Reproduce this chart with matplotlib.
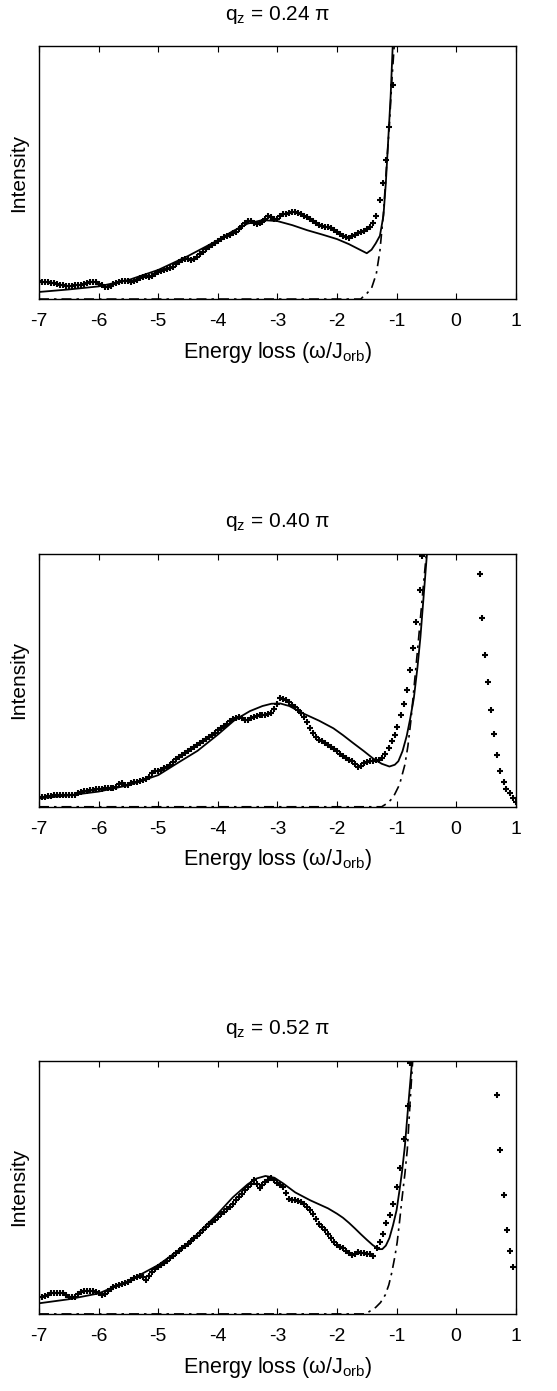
import numpy as np
import matplotlib
matplotlib.use("Agg")
import matplotlib.pyplot as plt

plt.rcParams['font.family'] = ['Liberation Sans', 'DejaVu Sans']
plt.rcParams['axes.unicode_minus'] = False
plt.rcParams['mathtext.default'] = 'regular'

# ---- experimental data, dense part on a 0.05 grid starting at -7.0 ----
EXP_X0 = -7.0
EXP_DX = 0.05

exp1_y = [
    .070, .068, .068, .066, .064, .062, .060, .057, .055, .053,
    .052, .053, .054, .055, .056, .058, .062, .066, .069, .066,
    .061, .054, .048, .049, .053, .058, .062, .066, .070, .073,
    .072, .068, .070, .076, .082, .087, .090, .089, .092, .100,
    .106, .111, .115, .118, .121, .128, .137, .147, .155, .158,
    .158, .155, .160, .168, .177, .187, .196, .204, .212, .220,
    .228, .237, .245, .250, .255, .259, .265, .276, .287, .300,
    .307, .308, .302, .298, .300, .305, .315, .330, .326, .316,
    .318, .330, .336, .335, .338, .342, .344, .340, .335, .330,
    .324, .316, .308, .300, .294, .290, .286, .283, .279, .272,
    .265, .256, .249, .245, .243, .248, .254, .259, .264, .270,
    .277,
]
exp1_tail_x = [-1.45, -1.40, -1.34, -1.28, -1.22, -1.17, -1.13, -1.06]
exp1_tail_y = [0.285, 0.30, 0.33, 0.39, 0.46, 0.55, 0.68, 0.845]

exp2_y = [
    .035, .037, .040, .042, .044, .045, .045, .046, .046, .047,
    .046, .046, .048, .055, .060, .061, .063, .065, .067, .069,
    .071, .072, .073, .074, .075, .076, .080, .090, .094, .088,
    .088, .092, .096, .099, .102, .106, .110, .118, .132, .140,
    .142, .146, .152, .157, .165, .178, .190, .198, .205, .212,
    .220, .228, .236, .243, .250, .258, .266, .275, .283, .293,
    .305, .313, .320, .328, .338, .347, .352, .355, .350, .344,
    .343, .350, .356, .360, .362, .363, .364, .366, .372, .385,
    .405, .430, .426, .420, .412, .404, .394, .382, .370, .355,
    .335, .312, .292, .275, .264, .258, .252, .246, .238, .230,
    .222, .210, .200, .192, .186, .180, .168, .156, .160, .172,
    .178, .180, .182, .185,
]
exp2_tail_x = [-1.30, -1.24, -1.19, -1.13, -1.08, -1.03, -0.99, -0.93, -0.88,
               -0.83, -0.77, -0.72, -0.67, -0.61, -0.57,
               0.40, 0.44, 0.49, 0.54, 0.59, 0.64, 0.69, 0.74, 0.80, 0.84,
               0.90, 0.955, 1.0]
exp2_tail_y = [0.186, 0.192, 0.209, 0.232, 0.258, 0.285, 0.317, 0.361, 0.407,
               0.46, 0.539, 0.626, 0.728, 0.858, 0.99,
               0.918, 0.747, 0.599, 0.493, 0.382, 0.287, 0.204, 0.142, 0.099,
               0.072, 0.053, 0.033, 0.02]

exp3_y = [
    .066, .068, .071, .076, .081, .083, .084, .083, .081, .074,
    .066, .066, .068, .078, .088, .089, .090, .091, .092, .088,
    .084, .075, .080, .090, .100, .105, .110, .114, .118, .123,
    .127, .133, .140, .145, .150, .145, .136, .150, .167, .177,
    .186, .193, .200, .210, .220, .230, .240, .250, .259, .268,
    .278, .288, .298, .308, .318, .331, .344, .354, .364, .373,
    .383, .393, .403, .413, .423, .436, .449, .462, .475, .488,
    .500, .514, .528, .515, .497, .508, .520, .530, .538, .528,
    .517, .508, .500, .478, .455, .452, .449, .446, .442, .433,
    .423, .409, .394, .376, .357, .344, .330, .314, .298, .285,
    .272, .265, .259, .249, .239, .232, .238, .245, .242, .239,
    .237, .235, .230,
]
exp3_tail_x = [-1.33, -1.27, -1.23, -1.17, -1.11, -1.06, -1.00, -0.94, -0.88,
               -0.81, -0.77,
               0.69, 0.74, 0.80, 0.85, 0.90, 0.955]
exp3_tail_y = [0.26, 0.286, 0.316, 0.358, 0.391, 0.435, 0.50, 0.576, 0.69,
               0.82, 0.99,
               0.866, 0.646, 0.469, 0.333, 0.248, 0.186]

# ---- theory (solid) ----
fit1_x = [-7, -6.5, -6, -5.5, -5, -4.5, -4, -3.75, -3.5, -3.25, -3.0, -2.75,
          -2.5, -2.25, -2.0, -1.8, -1.65, -1.5, -1.42, -1.35, -1.28, -1.22,
          -1.18, -1.14, -1.10, -1.065]
fit1_y = [.028, .038, .050, .075, .115, .170, .232, .268, .298, .312, .308,
          .292, .272, .255, .237, .217, .199, .181, .195, .22, .25, .33,
          .46, .63, .80, 1.0]

fit2_x = [-7, -6.5, -6, -5.5, -5, -4.66, -4.34, -4, -3.72, -3.46, -3.25,
          -3.1, -2.95, -2.8, -2.56, -2.3, -2.06, -1.9, -1.73, -1.55, -1.39,
          -1.25, -1.12, -1.03, -0.97, -0.9, -0.83, -0.77, -0.71, -0.65, -0.6,
          -0.55, -0.49]
fit2_y = [.033, .045, .060, .085, .125, .175, .221, .285, .342, .378, .398,
          .407, .408, .398, .368, .340, .310, .283, .252, .220, .190, .170,
          .159, .166, .18, .22, .28, .35, .43, .55, .67, .82, 1.0]

fit3_x = [-7, -6.5, -6, -5.5, -5, -4.5, -4, -3.75, -3.5, -3.35, -3.2, -3.05,
          -2.9, -2.7, -2.45, -2.3, -2.15, -2.0, -1.9, -1.8, -1.7, -1.6, -1.5,
          -1.4, -1.3, -1.24, -1.18, -1.12, -1.06, -1.0, -0.95, -0.91, -0.86,
          -0.82, -0.78, -0.74]
fit3_y = [.042, .058, .081, .13, .193, .278, .396, .46, .512, .535, .545,
          .538, .515, .48, .449, .433, .417, .396, .380, .360, .338, .315,
          .293, .272, .256, .256, .27, .30, .35, .41, .49, .56, .665, .78,
          .89, 1.0]

# ---- elastic / background (dash-dot) ----
bg1_x = [-7, -1.6, -1.56, -1.50, -1.42, -1.34, -1.28, -1.22, -1.17, -1.12,
         -1.08, -1.04]
bg1_y = [0, 0, .01, .022, .043, .10, .19, .34, .52, .69, .86, 1.0]

bg2_x = [-7, -1.25, -1.15, -1.06, -0.95, -0.86, -0.81, -0.76, -0.72, -0.68,
         -0.64, -0.60, -0.56, -0.53, -0.50]
bg2_y = [0, 0, .015, .036, .088, .167, .24, .34, .44, .54, .64, .745, .85,
         .925, 1.0]

bg3_x = [-7, -1.52, -1.35, -1.27, -1.19, -1.13, -1.08, -1.03, -0.99, -0.95,
         -0.91, -0.86, -0.82, -0.77, -0.73]
bg3_y = [0, 0, .026, .045, .075, .115, .164, .225, .283, .365, .454, .555,
         .65, .85, 1.0]

titles = [r'q$_{z}$ = 0.24 π', r'q$_{z}$ = 0.40 π', r'q$_{z}$ = 0.52 π']
xticks = [-7, -6, -5, -4, -3, -2, -1, 0, 1]

panels = [
    (exp1_y, exp1_tail_x, exp1_tail_y, fit1_x, fit1_y, bg1_x, bg1_y),
    (exp2_y, exp2_tail_x, exp2_tail_y, fit2_x, fit2_y, bg2_x, bg2_y),
    (exp3_y, exp3_tail_x, exp3_tail_y, fit3_x, fit3_y, bg3_x, bg3_y),
]

fig = plt.figure(figsize=(5.57, 13.91), dpi=100)
bottoms = [0.785, 0.420, 0.0554]

for k, (ey, tx, ty, fx, fy, bx, by) in enumerate(panels):
    ax = fig.add_axes([0.070, bottoms[k], 0.856, 0.182])
    ex = EXP_X0 + EXP_DX * np.arange(len(ey))
    ax.plot(list(ex) + tx, list(ey) + ty, linestyle='none', marker='+',
            ms=4.8, mew=1.5, color='black', clip_on=True)
    ax.plot(fx, fy, color='black', lw=1.3)
    ax.plot(bx, by, color='black', lw=1.2, linestyle=(0, (6, 3, 1.5, 3)))
    ax.set_xlim(-7, 1)
    ax.set_ylim(0, 1)
    ax.set_xticks(xticks)
    ax.set_xticklabels([str(t) for t in xticks])
    ax.set_yticks([])
    ax.tick_params(axis='x', direction='in', top=True, length=4, width=0.8,
                   labelsize=14, pad=10)
    for s in ax.spines.values():
        s.set_linewidth(1.0)
    ax.set_title(titles[k], fontsize=15, pad=19)
    ax.set_xlabel(r'Energy loss (ω/J$_{orb}$)', fontsize=15.5, labelpad=7)
    ax.set_ylabel('Intensity', fontsize=15, labelpad=8)

fig.savefig('out.png', dpi=100)
